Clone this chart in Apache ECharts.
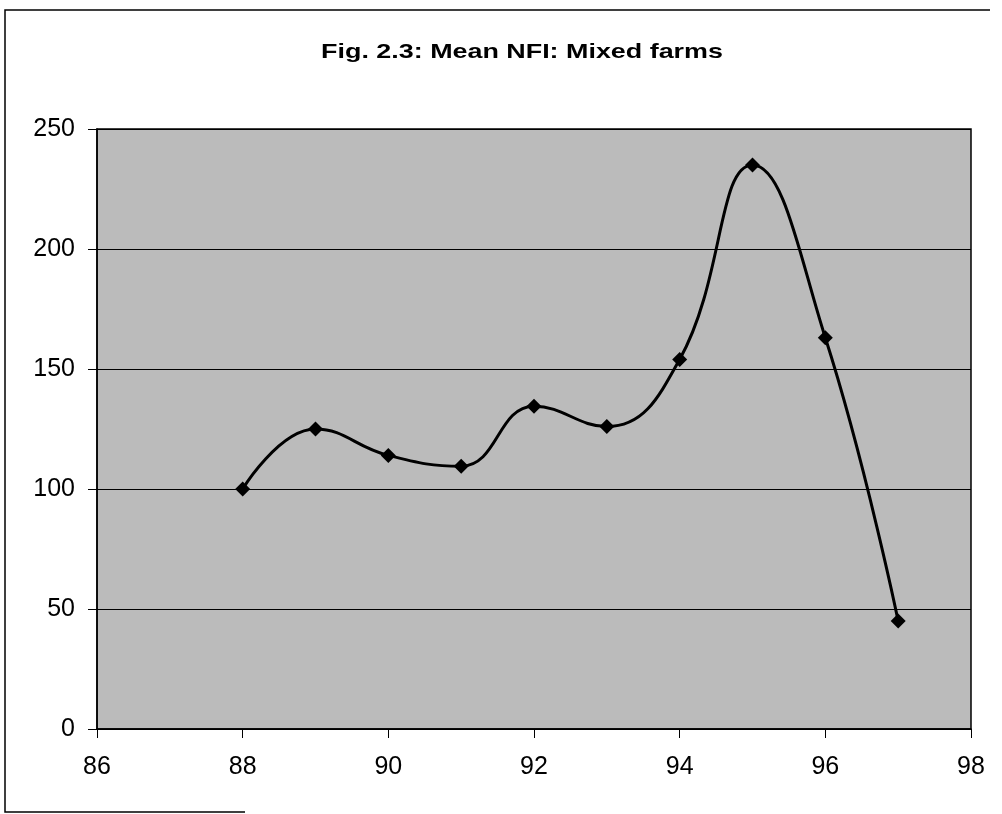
<!DOCTYPE html>
<html>
<head>
<meta charset="utf-8">
<title>Fig. 2.3: Mean NFI: Mixed farms</title>
<script src="https://cdn.jsdelivr.net/npm/echarts@6/dist/echarts.min.js"></script>
<style>
  html, body { margin: 0; padding: 0; background: #ffffff; }
  #chart { width: 1002px; height: 814px; }
</style>
</head>
<body>
<div id="chart"></div>
<script>
// Survey years (19xx) and mean net farm income for mixed farms
const years = [88, 89, 90, 91, 92, 93, 94, 95, 96, 97];
const meanNFI = [100, 125, 114, 109.5, 134.5, 126, 154, 235, 163, 45];

const chartTitle = 'Fig. 2.3: Mean NFI: Mixed farms';

const xAxisMin = 86, xAxisMax = 98, xAxisStep = 2;
const yAxisMin = 0, yAxisMax = 250, yAxisStep = 50;

const points = years.map((yr, i) => [yr, meanNFI[i]]);

const chart = echarts.init(document.getElementById('chart'), null, { renderer: 'canvas' });

const labelFont = '"Liberation Sans", Arial, sans-serif';

chart.setOption({
  animation: false,
  backgroundColor: '#ffffff',
  graphic: [
    {
      // chart title
      type: 'text',
      x: 522,
      y: 52,
      scaleX: 1.28,
      style: {
        text: chartTitle,
        font: 'bold 21px ' + labelFont,
        fill: '#000000',
        textAlign: 'center',
        textVerticalAlign: 'middle'
      },
      z: 10
    },
    {
      // outer frame of the chart box
      type: 'polyline',
      shape: { points: [[990, 10], [5, 10], [5, 812], [245, 812]] },
      style: { stroke: '#000000', lineWidth: 1.5, fill: null },
      z: 10
    }
  ],
  grid: {
    left: 97,
    right: 31,
    top: 129,
    bottom: 85,
    show: true,
    backgroundColor: '#bbbbbb',
    borderColor: '#000000',
    borderWidth: 1.5
  },
  xAxis: {
    type: 'value',
    min: xAxisMin,
    max: xAxisMax,
    interval: xAxisStep,
    axisLine: { show: true, lineStyle: { color: '#000000', width: 1.5 } },
    axisTick: { show: true, inside: false, length: 9, lineStyle: { color: '#000000', width: 1 } },
    axisLabel: {
      margin: 26,
      color: '#000000',
      fontSize: 25,
      fontFamily: labelFont
    },
    splitLine: { show: false }
  },
  yAxis: {
    type: 'value',
    min: yAxisMin,
    max: yAxisMax,
    interval: yAxisStep,
    axisLine: { show: true, lineStyle: { color: '#000000', width: 1.5 } },
    axisTick: { show: true, inside: false, length: 9, lineStyle: { color: '#000000', width: 1 } },
    axisLabel: {
      margin: 22,
      color: '#000000',
      fontSize: 25,
      fontFamily: labelFont
    },
    splitLine: { show: true, lineStyle: { color: '#000000', width: 1 } }
  },
  series: [
    {
      type: 'line',
      name: 'Mean NFI',
      data: points,
      smooth: 0.45,
      symbol: 'diamond',
      symbolSize: 15,
      lineStyle: { color: '#000000', width: 3 },
      itemStyle: { color: '#000000' },
      z: 5
    }
  ]
});
</script>
</body>
</html>
